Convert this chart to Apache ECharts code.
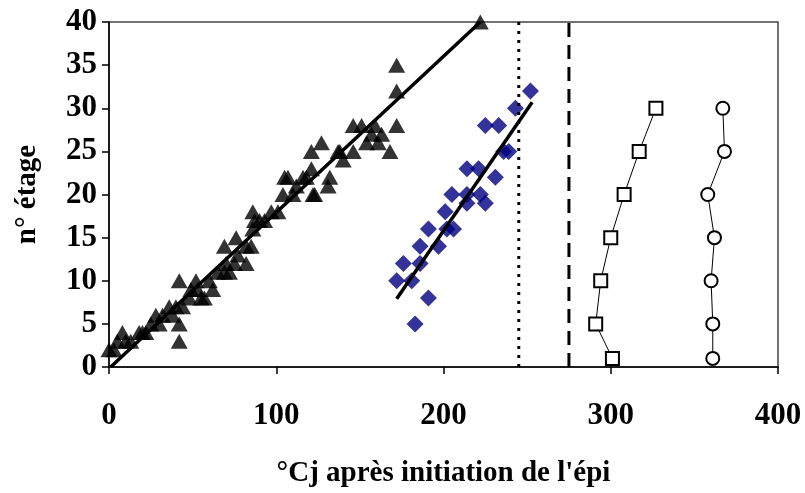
<!DOCTYPE html>
<html>
<head>
<meta charset="utf-8">
<script src="https://cdn.jsdelivr.net/npm/echarts@6/dist/echarts.min.js"></script>
<style>html,body{margin:0;padding:0;background:#fff}#c{width:805px;height:493px}</style>
</head>
<body>
<div id="c"></div>
<script>
var xTicks = [0, 100, 200, 300, 400];
var yTicks = [0, 5, 10, 15, 20, 25, 30, 35, 40];
var triangles = [[0,2],[3,2],[5,3],[8,4],[10,3],[13,3],[18,4],[20,4],[22,4],[28,6],[30,5],[32,6],[36,7],[38,6],[40,7],[42,10],[42,5],[42,3],[44,7],[48,8],[49,9],[52,10],[53,9],[55,8],[57,8],[60,10],[62,9],[69,14],[70,12],[69,11],[72,11],[75,12],[76,15],[77,13],[82,12],[82,14],[85,14],[86,18],[86,16],[87,17],[93,17],[97,18],[101,18],[104,20],[105,22],[107,22],[112,21],[116,22],[118,22],[121,23],[122,20],[121,25],[123,20],[127,26],[131,21],[132,22],[137,25],[138,25],[146,25],[146,28],[151,28],[154,26],[159,28],[161,26],[163,27],[168,25],[172,28],[172,32],[172,35],[222,40],[65,11],[90,17],[110,20],[140,24],[157,27],[25,5]];
var diamonds = [[252,32],[243,30],[225,28],[233,28],[236,25],[239,25],[214,23],[221,23],[231,22],[205,20],[214,20],[222,20],[214,19],[225,19],[201,18],[191,16],[202,16],[206,16],[186,14],[197,14],[176,12],[186,12],[172,10],[181,10],[191,8],[183,5]];
var squares = [[301,1],[291,5],[294,10],[300,15],[308,20],[317,25],[327,30]];
var circles = [[361,1],[361,5],[360,10],[362,15],[358,20],[368,25],[367,30]];
var fitTriangles = [[1,0],[222,40]];
var fitDiamonds = [[172,7.9],[253,30.7]];
var dottedLine = [[245,0],[245,40]];
var dashedLine = [[275,0],[275,40]];

var font = 'Liberation Serif, Times New Roman, serif';
var chart = echarts.init(document.getElementById('c'));
chart.setOption({
  animation: false,
  backgroundColor: '#fff',
  grid: {left: 109, right: 27, top: 22, bottom: 118, show: true, borderColor: '#444', borderWidth: 1.5},
  xAxis: {
    type: 'value', min: xTicks[0], max: xTicks[xTicks.length-1], interval: 100,
    name: '°Cj après initiation de l\'épi', nameLocation: 'middle', nameGap: 92,
    nameTextStyle: {fontFamily: font, fontWeight: 'bold', fontSize: 29, color: '#000'},
    axisLine: {show: true, lineStyle: {color: '#000', width: 1.5}},
    axisTick: {show: true, inside: false, length: 7, lineStyle: {color: '#000', width: 1.5}},
    axisLabel: {margin: 33, fontFamily: font, fontWeight: 'bold', fontSize: 31, color: '#000'},
    splitLine: {show: false}
  },
  yAxis: {
    type: 'value', min: yTicks[0], max: yTicks[yTicks.length-1], interval: 5,
    name: 'n° étage', nameLocation: 'middle', nameGap: 67, nameRotate: 90,
    nameTextStyle: {fontFamily: font, fontWeight: 'bold', fontSize: 29, color: '#000'},
    axisLine: {show: true, lineStyle: {color: '#000', width: 1.5}},
    axisTick: {show: true, inside: false, length: 7, lineStyle: {color: '#000', width: 1.5}},
    axisLabel: {margin: 12, fontFamily: font, fontWeight: 'bold', fontSize: 31, color: '#000'},
    splitLine: {show: false}
  },
  series: [
    {type: 'scatter', data: triangles, symbol: 'triangle', symbolSize: [17, 15], itemStyle: {color: '#000'}, z: 3},
    {type: 'scatter', data: diamonds, symbol: 'diamond', symbolSize: 17, itemStyle: {color: '#000080'}, z: 3},
    {type: 'line', data: fitTriangles, symbol: 'none', lineStyle: {color: '#000', width: 3.5}, z: 4},
    {type: 'line', data: fitDiamonds, symbol: 'none', lineStyle: {color: '#000', width: 3.5}, z: 4},
    {type: 'line', data: dottedLine, symbol: 'none', lineStyle: {color: '#000', width: 3, type: [3, 6]}, z: 4},
    {type: 'line', data: dashedLine, symbol: 'none', lineStyle: {color: '#000', width: 3, type: [14, 8]}, z: 4},
    {type: 'line', data: squares, symbol: 'rect', symbolSize: 13, showAllSymbol: true,
     itemStyle: {color: '#fff', borderColor: '#000', borderWidth: 2}, lineStyle: {color: '#000', width: 1}, z: 5},
    {type: 'line', data: circles, symbol: 'circle', symbolSize: 13, showAllSymbol: true,
     itemStyle: {color: '#fff', borderColor: '#000', borderWidth: 2}, lineStyle: {color: '#000', width: 1}, z: 5}
  ]
});
</script>
</body>
</html>
